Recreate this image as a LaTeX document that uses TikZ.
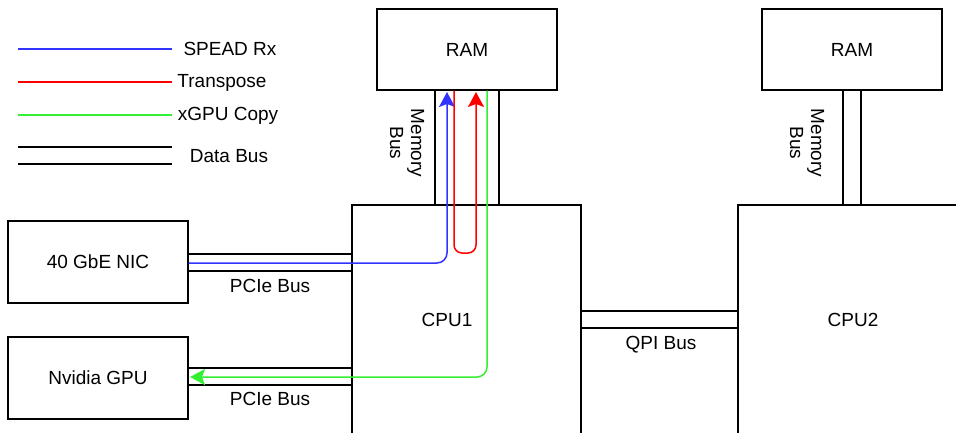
\documentclass[tikz,border=0pt]{standalone}
\usepackage{fontspec}
\setmainfont{Liberation Sans}
\usepackage{tikz}
\usetikzlibrary{arrows.meta}
\definecolor{speadcolor}{RGB}{51, 51, 255}
\definecolor{transcolor}{RGB}{255, 0, 0}
\definecolor{xgpucolor}{RGB}{51, 240, 51}

\begin{document}
\begin{tikzpicture}[x=1pt, y=-1pt,
    box/.style={draw, line width=1.3pt, inner sep=0pt, font=\fontsize{19}{21}\selectfont},
    lbl/.style={inner sep=0pt, font=\fontsize{19}{21}\selectfont},
    bus/.style={line width=1.3pt},
    flow/.style={line width=1.5pt, rounded corners=10pt},
    flowtip/.style={arrows={-Stealth[length=15pt, width=16pt, inset=3pt]}}]
    \useasboundingbox (0,0) rectangle (956,432);

    % Boxes
    \node[box, minimum width=180pt, minimum height=81pt] (ram1) at (467,49.5) {RAM};
    \node[box, minimum width=180pt, minimum height=81pt] (ram2) at (852,49.5) {RAM};
    \node[box, minimum width=229pt, minimum height=230pt] (cpu1) at (466.5,320) {};
    \node[lbl] (cpu1lbl) at (447,320) {CPU1};
    \node[box, minimum width=230pt, minimum height=230pt] (cpu2) at (853,320) {CPU2};
    \node[box, minimum width=180pt, minimum height=82pt] (nic) at (98,262) {40 GbE NIC};
    \node[box, minimum width=180pt, minimum height=82pt] (gpu) at (98,378) {Nvidia GPU};

    % Memory buses
    \foreach \xx in {435,499}
        \draw[bus] (ram1.south -| \xx,0) -- (cpu1.north -| \xx,0);
    \foreach \xx in {843,861}
        \draw[bus] (ram2.south -| \xx,0) -- (cpu2.north -| \xx,0);
    \node[lbl, rotate=-90, align=center] (membus1) at (407,143) {Memory\\Bus};
    \node[lbl, rotate=-90, align=center] (membus2) at (807,143) {Memory\\Bus};

    % PCIe buses
    \foreach \yy in {254,271}
        \draw[bus] (nic.east |- 0,\yy) -- (cpu1.west |- 0,\yy);
    \foreach \yy in {368,385}
        \draw[bus] (gpu.east |- 0,\yy) -- (cpu1.west |- 0,\yy);
    \node[lbl] (pcie1) at (270,286) {PCIe Bus};
    \node[lbl] (pcie2) at (270,399) {PCIe Bus};

    % QPI bus
    \foreach \yy in {311,328}
        \draw[bus] (cpu1.east |- 0,\yy) -- (cpu2.west |- 0,\yy);
    \node[lbl] (qpi) at (661,345) {QPI Bus};

    % Data flows
    \draw[flow, speadcolor, flowtip] (nic.east |- 0,263) -- (447,263) -- (447,92);
    \draw[flow, transcolor, flowtip, rounded corners=8pt] (ram1.south -| 454,0) -- (454,253) -- (476,253) -- (476,92);
    \draw[flow, xgpucolor, flowtip] (ram1.south -| 487,0) -- (487,377) -- (190,377);

    % Legend
    \coordinate (lgsa) at (18,49);  \coordinate (lgsb) at (172,49);
    \coordinate (lgta) at (18,82);  \coordinate (lgtb) at (172,82);
    \coordinate (lgxa) at (18,115); \coordinate (lgxb) at (172,115);
    \draw[line width=1.5pt, speadcolor] (lgsa) -- (lgsb);
    \draw[line width=1.5pt, transcolor] (lgta) -- (lgtb);
    \draw[line width=1.5pt, xgpucolor] (lgxa) -- (lgxb);
    \foreach \yy in {147,164}
        \draw[bus] (18,\yy) -- (172,\yy);
    \node[lbl] (lgspead) at (230,49) {SPEAD Rx};
    \node[lbl] (lgtrans) at (222,83) {Transpose};
    \node[lbl] (lgxgpu) at (228,116) {xGPU Copy};
    \node[lbl] (lgbus) at (229,156) {Data Bus};
\end{tikzpicture}
\end{document}
